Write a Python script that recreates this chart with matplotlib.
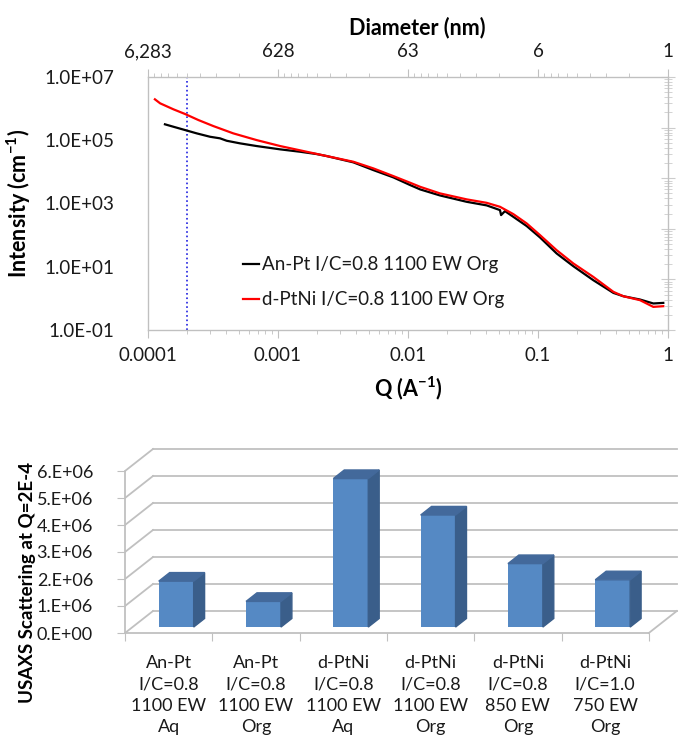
import matplotlib.pyplot as plt
from matplotlib.patches import Polygon
from matplotlib.ticker import NullFormatter
import numpy as np

plt.rcParams['font.family'] = ['Lato', 'DejaVu Sans']
plt.rcParams['mathtext.fontset'] = 'custom'
plt.rcParams['mathtext.rm'] = 'Lato'
plt.rcParams['mathtext.bf'] = 'Lato:bold'
plt.rcParams['text.color'] = '#1a1a1a'

# ---- USAXS curves ----
q_black = [1.35e-4, 1.57e-4, 1.93e-4, 2.37e-4, 3.00e-4, 3.58e-4, 4.03e-4, 5.10e-4,
           6.86e-4, 1.04e-3, 1.48e-3, 1.98e-3, 2.37e-3, 3.80e-3, 5.41e-3, 7.71e-3,
           1.04e-2, 1.24e-2, 1.76e-2, 2.83e-2, 4.03e-2, 5.10e-2, 5.20e-2, 5.57e-2,
           6.46e-2, 8.19e-2, 0.1036, 0.139, 0.187, 0.266, 0.380, 0.453, 0.609,
           0.771, 0.920]
i_black = [3.19e5, 2.67e5, 2.10e5, 1.65e5, 1.29e5, 1.15e5, 9.64e4, 7.98e4,
           6.55e4, 5.15e4, 4.33e4, 3.66e4, 3.16e4, 2.00e4, 1.14e4, 6.70e3,
           3.82e3, 2.79e3, 1.80e3, 1.13e3, 871, 618, 430, 574,
           379, 193, 84.5, 26.4, 10.4, 3.77, 1.49, 1.17, 0.92,
           0.69, 0.72]

q_red = [1.13e-4, 1.24e-4, 1.57e-4, 1.93e-4, 2.44e-4, 3.18e-4, 4.53e-4, 6.86e-4,
         1.04e-3, 1.66e-3, 2.37e-3, 3.80e-3, 5.41e-3, 7.71e-3, 1.04e-2, 1.24e-2,
         1.76e-2, 2.83e-2, 4.03e-2, 5.10e-2, 6.46e-2, 8.19e-2, 0.1036, 0.139,
         0.187, 0.266, 0.380, 0.453, 0.609, 0.771, 0.920]
i_red = [1.97e6, 1.47e6, 9.5e5, 6.75e5, 4.36e5, 2.81e5, 1.65e5, 1.01e5,
         6.55e4, 4.33e4, 3.16e4, 2.09e4, 1.29e4, 7.36e3, 4.52e3, 3.37e3,
         2.09e3, 1.35e3, 1.05e3, 787, 462, 234, 100, 33.5,
         12.7, 4.79, 1.61, 1.17, 0.877, 0.538, 0.566]

q_marker = 2e-4
label_black = 'An-Pt I/C=0.8 1100 EW Org'
label_red = 'd-PtNi I/C=0.8 1100 EW Org'

q_ticks = [1e-4, 1e-3, 1e-2, 1e-1, 1]
q_labels = ['0.0001', '0.001', '0.01', '0.1', '1']
i_ticks = [1e-1, 1e1, 1e3, 1e5, 1e7]
i_labels = ['1.0E-01', '1.0E+01', '1.0E+03', '1.0E+05', '1.0E+07']
diam_ticks = [6283.2, 628.32, 62.832, 6.2832, 0.62832]
diam_labels = ['6,283', '628', '63', '6', '1']

# ---- bar chart ----
bar_labels = ['An-Pt\nI/C=0.8\n1100 EW\nAq', 'An-Pt\nI/C=0.8\n1100 EW\nOrg',
              'd-PtNi\nI/C=0.8\n1100 EW\nAq', 'd-PtNi\nI/C=0.8\n1100 EW\nOrg',
              'd-PtNi\nI/C=0.8\n850 EW\nOrg', 'd-PtNi\nI/C=1.0\n750 EW\nOrg']
bar_values = [1.7e6, 0.95e6, 5.5e6, 4.15e6, 2.35e6, 1.75e6]
bar_ticks = [0, 1e6, 2e6, 3e6, 4e6, 5e6, 6e6]
bar_tick_labels = ['0.E+00', '1.E+06', '2.E+06', '3.E+06', '4.E+06', '5.E+06', '6.E+06']

grey = '#c0c0c0'
W, H = 681, 741
fig = plt.figure(figsize=(W / 100, H / 100), dpi=100)

# ================= top plot =================
ax = fig.add_axes([148 / W, 1 - 330 / H, 520 / W, 253 / H])
ax.set_xscale('log')
ax.set_yscale('log')
ax.plot(q_black, i_black, color='black', lw=1.6, label=label_black, zorder=3)
ax.plot(q_red, i_red, color='#ff0000', lw=1.6, label=label_red, zorder=4)
ax.axvline(q_marker, color='#2020e0', ls=':', lw=1.2)
ax.set_xlim(1e-4, 1)
ax.set_ylim(1e-1, 1e7)
ax.set_xticks(q_ticks)
ax.set_xticklabels(q_labels)
ax.yaxis.set_minor_locator(plt.NullLocator())
ax.set_yticks(i_ticks)
ax.set_yticklabels(i_labels)
ax.xaxis.set_minor_formatter(NullFormatter())
ax.tick_params(axis='x', which='both', direction='out', colors=grey, labelcolor='#1a1a1a',
               labelsize=13.5, pad=6)
ax.tick_params(axis='x', which='major', length=6)
ax.tick_params(axis='x', which='minor', length=3)
ax.tick_params(axis='y', which='both', length=0, labelsize=13.5, pad=24, labelcolor='#1a1a1a')
for s in ax.spines.values():
    s.set_color(grey)
ax.set_xlabel(r'Q (A$^{\mathbf{-1}}$)', fontsize=15.5, fontweight='bold')
ax.xaxis.set_label_coords(0.5, -0.175)
ax.set_ylabel(r'Intensity (cm$^{\mathbf{-1}}$)', fontsize=15.5, fontweight='bold')
ax.yaxis.set_label_coords(-0.222, 0.5)
leg = ax.legend(loc='lower left', bbox_to_anchor=(0.15, 0.02), frameon=False,
                fontsize=13.5, handlelength=0.85, handletextpad=0.15, labelspacing=0.95)

# diameter axis on top
ax_top = ax.twiny()
ax_top.set_xscale('log')
ax_top.set_xlim(ax.get_xlim())
ax_top.set_xticks([0.62832 / d for d in diam_ticks])
ax_top.set_xticklabels(diam_labels)
minor_top = [0.62832 / (d * k / 10) for d in diam_ticks[:-1] for k in range(2, 10)]
ax_top.set_xticks(minor_top, minor=True)
ax_top.xaxis.set_minor_formatter(NullFormatter())
ax_top.tick_params(axis='x', which='both', direction='out', colors=grey,
                   labelcolor='#1a1a1a', labelsize=13.5, pad=6)
ax_top.tick_params(axis='x', which='major', length=6)
ax_top.tick_params(axis='x', which='minor', length=3)
ax_top.set_xlabel('Diameter (nm)', fontsize=15.5, fontweight='bold')
ax_top.xaxis.set_label_coords(0.517, 1.17)
for s in ax_top.spines.values():
    s.set_color(grey)

# stray secondary y axis ticks on the right
ax_r = ax.twinx()
ax_r.set_yscale('log')
ax_r.set_ylim(1, 1e5)
ax_r.yaxis.set_minor_formatter(NullFormatter())
ax_r.tick_params(axis='y', which='both', direction='inout', colors='#cccccc', labelright=False)
ax_r.tick_params(axis='y', which='major', length=10)
ax_r.tick_params(axis='y', which='minor', length=6)
for s in ax_r.spines.values():
    s.set_color(grey)

# ================= 3D-style bar chart =================
n = len(bar_values)
cat_px, val_px = 87.3, 27.0e-6        # pixels per category / per unit value
dx, dy = 28 / cat_px, 22 / val_px     # depth offset of the back wall
f0, f1 = 0.27, 0.66                   # bar front / back depth fraction
bw = 0.4

bx = fig.add_axes([125 / W, 1 - 640 / H, 556 / W, 200 / H])
bx.set_xlim(-0.5, -0.5 + 556 / cat_px)
bx.set_ylim(-7 / val_px, 193 / val_px)

for v in bar_ticks:
    bx.plot([-0.5, -0.5 + dx], [v, v + dy], color=grey, lw=1.3, zorder=1)
    bx.plot([-0.5 + dx, n - 0.5 + dx], [v + dy, v + dy], color=grey, lw=1.3, zorder=1)
bx.plot([n - 0.5, n - 0.5 + dx], [0, dy], color=grey, lw=1.3, zorder=1)

xs = np.arange(n) + f0 * dx
base = f0 * dy
bx.bar(xs, bar_values, width=bw, bottom=base, color='#5589c4', zorder=3)
d = f1 - f0
for x, v in zip(xs, bar_values):
    top = base + v
    side = [(x + bw / 2, base), (x + bw / 2 + d * dx, base + d * dy),
            (x + bw / 2 + d * dx, top + d * dy), (x + bw / 2, top)]
    lid = [(x - bw / 2, top), (x + bw / 2, top),
           (x + bw / 2 + d * dx, top + d * dy), (x - bw / 2 + d * dx, top + d * dy)]
    bx.add_patch(Polygon(side, closed=True, color='#3a5e8a', zorder=3))
    bx.add_patch(Polygon(lid, closed=True, color='#43699b', zorder=3))

bx.spines['top'].set_visible(False)
bx.spines['right'].set_visible(False)
bx.spines['left'].set_bounds(0, bar_ticks[-1])
bx.spines['bottom'].set_position(('data', 0))
bx.spines['bottom'].set_bounds(-0.5, n - 0.5)
for s in ('left', 'bottom'):
    bx.spines[s].set_color(grey)
    bx.spines[s].set_linewidth(1.3)
bx.set_yticks(bar_ticks)
bx.set_yticklabels(bar_tick_labels)
bx.tick_params(axis='y', length=6, colors=grey, labelcolor='#1a1a1a', labelsize=13, pad=17)
bx.set_xticks(np.arange(n + 1) - 0.5)
bx.set_xticklabels([])
bx.set_xticks(np.arange(n), minor=True)
bx.set_xticklabels(bar_labels, minor=True)
bx.tick_params(axis='x', which='major', length=6, colors=grey)
bx.tick_params(axis='x', which='minor', length=0, labelsize=13, pad=16, labelcolor='#1a1a1a')
for lbl in bx.get_xticklabels(minor=True):
    lbl.set_linespacing(1.4)
bx.set_ylabel('USAXS Scattering at Q=2E-4', fontsize=13.5, fontweight='bold')
bx.yaxis.set_label_coords(-0.16, 0.29)

fig.savefig('out.png', dpi=100)
